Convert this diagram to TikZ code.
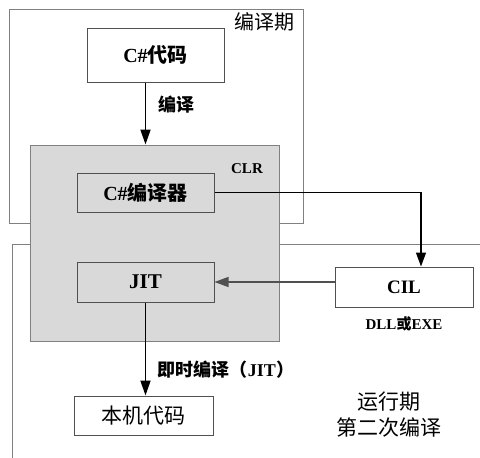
\documentclass[tikz,border=0pt]{standalone}
\usepackage{fontspec}
\setmainfont{Liberation Serif}
\newfontfamily\cjk{Noto Sans CJK SC}
\usetikzlibrary{arrows.meta,positioning}
\definecolor{boxgray}{HTML}{808080}
\definecolor{clrfill}{HTML}{D9D9D9}
\definecolor{edgegray}{HTML}{505050}
\tikzset{
  region/.style={draw=boxgray, line width=1pt, fill=white, inner sep=0pt},
  inbox/.style={draw=edgegray, line width=1pt, inner sep=0pt, align=center},
  flow/.style={draw=black, line width=1.8pt, -{Triangle[length=15pt,width=10pt]}},
  thin flow/.style={draw=black, line width=1.3pt, -{Triangle[length=14pt,width=10pt]}},
  gray flow/.style={draw=edgegray, line width=1.3pt, -{Triangle[length=14pt,width=10pt]}},
  lbl/.style={inner sep=0pt, align=center}
}
\begin{document}
\begin{tikzpicture}[x=1pt,y=-1pt]
\useasboundingbox (0,0) rectangle (480,458);
% compile-time region
\node[region, minimum width=294pt, minimum height=214pt] (ct) at (156,116) {};
\node[lbl] (ctlabel) at (264,22) {\fontsize{20}{22}\selectfont\cjk 编译期};
% run-time region
\coordinate (rtR) at (480,244);
\coordinate (rtC) at (12,244);
\coordinate (rtB) at (12,458);
\draw[boxgray, line width=1pt] (rtR) -- (rtC) -- (rtB);
% CLR
\node[region, fill=clrfill, minimum width=249pt, minimum height=196pt] (clr) at (154.5,243) {};
\node[lbl] (clrlabel) at (247,169) {\fontsize{15}{17}\selectfont\bfseries CLR};
% boxes
\node[inbox, fill=white, minimum width=137pt, minimum height=54pt] (code) at (155.5,55)
  {\fontsize{20}{22}\selectfont\bfseries C\#{\cjk\bfseries 代码}};
\node[inbox, fill=clrfill, minimum width=137pt, minimum height=39pt] (csc) at (145.5,192.5)
  {\fontsize{20}{22}\selectfont\bfseries C\#{\cjk 编译器}};
\node[inbox, fill=clrfill, minimum width=137pt, minimum height=40pt] (jit) at (145.5,282)
  {\fontsize{21}{23}\selectfont\bfseries JIT};
\node[inbox, fill=white, minimum width=138pt, minimum height=40pt] (cil) at (404,287)
  {\fontsize{19}{21}\selectfont\bfseries CIL};
\node[inbox, fill=white, minimum width=139pt, minimum height=39pt] (native) at (143.5,415.5)
  {\fontsize{21}{23}\selectfont\cjk 本机代码};
% labels
\node[lbl] (lcompile) at (176,105) {\fontsize{18}{20}\selectfont\cjk\bfseries 编译};
\node[lbl] (ldll) at (404,324) {\fontsize{15}{17}\selectfont\bfseries DLL{\cjk 或}EXE};
\node[lbl] (ljit) at (226,370) {\fontsize{18}{20}\selectfont\bfseries{\cjk 即时编译（}JIT{\cjk ）}};
\node[lbl] (lrun) at (389,402) {\fontsize{21}{23}\selectfont\cjk 运行期};
\node[lbl] (lsecond) at (389,427) {\fontsize{21}{23}\selectfont\cjk 第二次编译};
% connectors
\draw[flow] (code.south -| csc.north) -- (clr.north -| csc.north);
\draw[thin flow] (csc.east) -| ([xshift=17pt]cil.north);
\draw[gray flow] (cil.west |- jit.east) -- (jit.east);
\draw[flow] (jit.south) -- (jit.south |- native.north);
\end{tikzpicture}
\end{document}
